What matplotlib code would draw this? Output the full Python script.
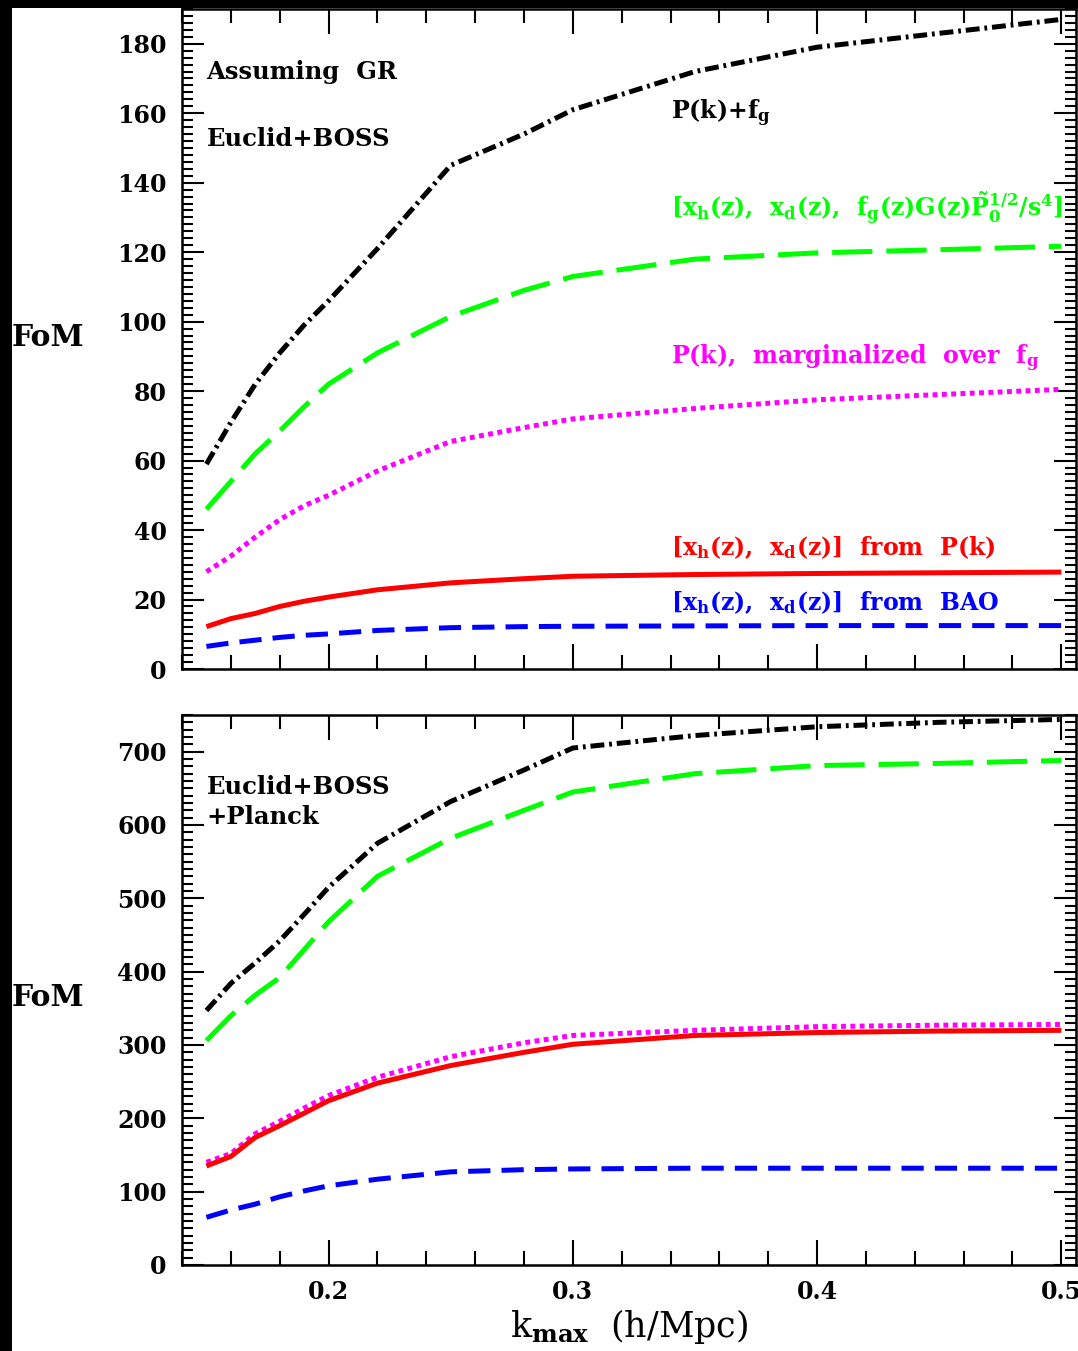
import matplotlib
matplotlib.use("Agg")
import matplotlib.pyplot as plt
from matplotlib.ticker import MultipleLocator
from matplotlib.patches import Rectangle

plt.rcParams['font.family'] = ['DejaVu Serif']
plt.rcParams['font.weight'] = 'bold'
plt.rcParams['mathtext.fontset'] = 'custom'
plt.rcParams['mathtext.rm'] = 'DejaVu Serif:bold'
plt.rcParams['mathtext.it'] = 'DejaVu Serif:bold'
plt.rcParams['mathtext.bf'] = 'DejaVu Serif:bold'
plt.rcParams['lines.scale_dashes'] = False

# ---- data ----
kmax = [0.15, 0.16, 0.17, 0.18, 0.19, 0.20, 0.22, 0.25, 0.28, 0.30, 0.35, 0.40, 0.45, 0.50]

top_pk_fg = [59, 71, 82, 91, 99, 106, 121, 145, 154, 161, 172, 179, 183, 187]
top_xh_xd_fg = [46, 54, 62, 68.5, 75.5, 82, 91, 101.5, 109, 113, 118, 119.8, 120.7, 121.7]
top_pk_marg = [28, 32.5, 38, 43, 47, 50, 57, 65.5, 69.5, 72, 75, 77.5, 79, 80.5]
top_pk_xhxd = [12.2, 14.5, 16, 18, 19.5, 20.7, 22.8, 24.8, 26, 26.7, 27.2, 27.5, 27.7, 27.9]
top_bao = [6.5, 7.5, 8.3, 9.1, 9.7, 10.1, 11.1, 11.9, 12.2, 12.3, 12.4, 12.5, 12.5, 12.5]

bot_pk_fg = [347, 384, 412, 442, 478, 515, 575, 632, 675, 705, 722, 734, 740, 744]
bot_xh_xd_fg = [306, 340, 368, 392, 430, 468, 530, 582, 620, 645, 670, 681, 684, 688]
bot_pk_marg = [140, 152, 179, 196, 214, 231, 256, 284, 303, 313, 320, 325, 327, 328]
bot_pk_xhxd = [135, 148, 174, 190, 207, 224, 248, 272, 290, 301, 313, 317, 319, 320]
bot_bao = [65, 75, 83, 93, 101, 108, 117, 127, 130, 131, 132, 132, 132, 132]

xticks = [0.2, 0.3, 0.4, 0.5]
xticklabels = ['0.2', '0.3', '0.4', '0.5']

# ---- figure ----
W, H = 1078, 1351
fig = plt.figure(figsize=(W / 100, H / 100), dpi=100, facecolor='black')
fig.patches.append(Rectangle((12 / W, 0), 1 - 12 / W, 1 - 8 / H,
                             transform=fig.transFigure, facecolor='white',
                             edgecolor='none', zorder=-10))

L = 182 / W
R = 1076 / W
ax1 = fig.add_axes([L, 1 - 669 / H, R - L, (669 - 9) / H])
ax2 = fig.add_axes([L, 1 - 1265 / H, R - L, (1265 - 715) / H])

styles = dict(
    pk_fg=dict(color='black', dashes=(10, 3.5, 2, 3.5)),
    fg=dict(color='#00ff00', dashes=(29, 10)),
    marg=dict(color='#ff00ff', dashes=(3.5, 3.2)),
    xhxd=dict(color='#ff0000', linestyle='-'),
    bao=dict(color='#0000ff', dashes=(16, 8)),
)
LW = 3.6

for ax, series in [
    (ax1, [(top_pk_fg, 'pk_fg'), (top_xh_xd_fg, 'fg'), (top_pk_marg, 'marg'),
           (top_pk_xhxd, 'xhxd'), (top_bao, 'bao')]),
    (ax2, [(bot_pk_fg, 'pk_fg'), (bot_xh_xd_fg, 'fg'), (bot_pk_marg, 'marg'),
           (bot_pk_xhxd, 'xhxd'), (bot_bao, 'bao')]),
]:
    for vals, key in series:
        ax.plot(kmax, vals, lw=LW, solid_capstyle='butt', dash_capstyle='butt', **styles[key])
    ax.set_xlim(0.14, 0.506)
    ax.xaxis.set_major_locator(MultipleLocator(0.1))
    ax.xaxis.set_minor_locator(MultipleLocator(0.02))
    ax.tick_params(which='both', direction='in', top=True, right=True,
                   width=1.5, labelsize=17, pad=11)
    ax.tick_params(which='major', axis='x', length=18)
    ax.tick_params(which='minor', axis='x', length=10)
    ax.tick_params(which='major', axis='y', length=16)
    ax.tick_params(which='minor', axis='y', length=8)
    for s in ax.spines.values():
        s.set_linewidth(1.8)

ax1.set_ylim(0, 190)
ax1.yaxis.set_major_locator(MultipleLocator(20))
ax1.yaxis.set_minor_locator(MultipleLocator(2))
ax1.tick_params(axis='x', labelbottom=False)

ax2.set_ylim(0, 750)
ax2.yaxis.set_major_locator(MultipleLocator(100))
ax2.yaxis.set_minor_locator(MultipleLocator(10))
ax2.set_xticks(xticks)
ax2.set_xticklabels(xticklabels)
ax2.set_xlabel(r'k$_\mathrm{max}$  (h/Mpc)', fontsize=25, labelpad=2)

fs = 17.5
lfs = 17
ax1.text(0.15, 172, 'Assuming  GR', fontsize=fs, va='center', ha='left')
ax1.text(0.15, 152.7, 'Euclid+BOSS', fontsize=fs, va='center', ha='left')
ax1.text(0.34, 160, r'P(k)+f$_\mathrm{g}$', fontsize=lfs, va='center', ha='left', color='black')
ax1.text(0.34, 132.5, r'[x$_\mathrm{h}$(z),  x$_\mathrm{d}$(z),  f$_\mathrm{g}$(z)G(z)$\mathrm{\tilde{P}_0^{1/2}/s^4}$]',
         fontsize=lfs, va='center', ha='left', color='#00ff00')
ax1.text(0.34, 89.4, r'P(k),  marginalized  over  f$_\mathrm{g}$', fontsize=lfs, va='center',
         ha='left', color='#ff00ff')
ax1.text(0.34, 35, r'[x$_\mathrm{h}$(z),  x$_\mathrm{d}$(z)]  from  P(k)', fontsize=lfs, va='center',
         ha='left', color='#ff0000')
ax1.text(0.34, 19, r'[x$_\mathrm{h}$(z),  x$_\mathrm{d}$(z)]  from  BAO', fontsize=lfs, va='center',
         ha='left', color='#0000ff')

ax2.text(0.15, 652, 'Euclid+BOSS', fontsize=fs, va='center', ha='left')
ax2.text(0.15, 611, '+Planck', fontsize=fs, va='center', ha='left')

fig.text(12 / W, 1 - 337 / H, 'FoM', fontsize=21.5, va='center', ha='left')
fig.text(12 / W, 1 - 997 / H, 'FoM', fontsize=21.5, va='center', ha='left')

fig.savefig('out.png', dpi=100, facecolor=fig.get_facecolor())
